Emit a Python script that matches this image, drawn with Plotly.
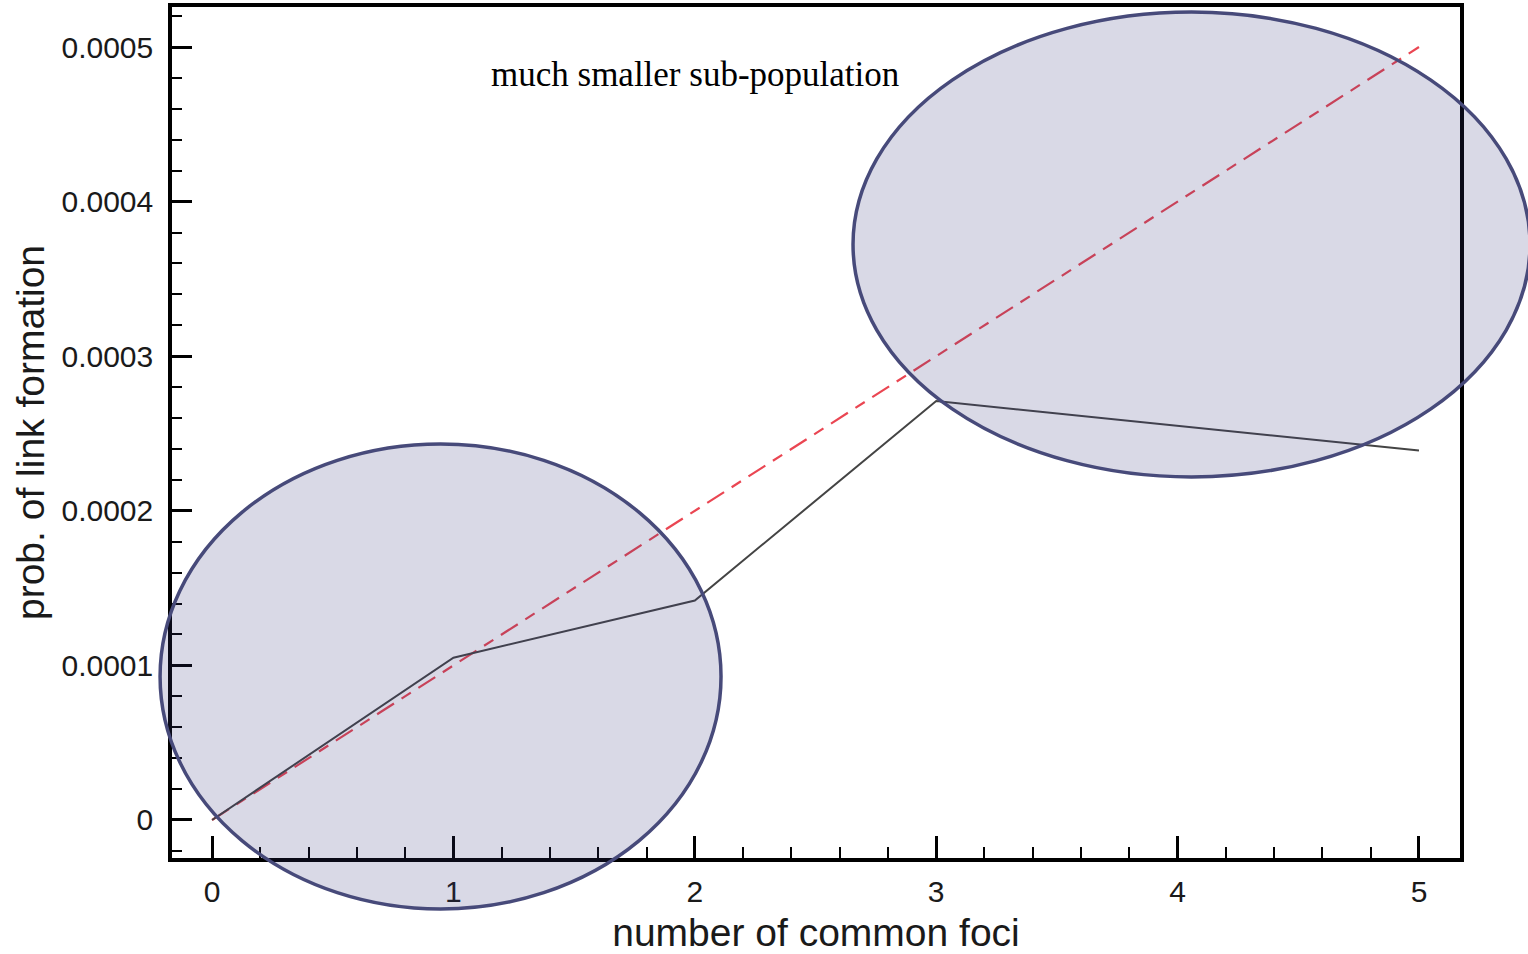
import plotly.graph_objects as go

# data
foci = [0, 1, 2, 3, 4, 5]
observed_x = [0, 1, 2, 3, 5]
observed_y = [0.0, 0.000105, 0.000142, 0.000271, 0.000239]
trend_x = [0, 5]
trend_y = [0.0, 0.0005]
y_tickvals = [0, 0.0001, 0.0002, 0.0003, 0.0004, 0.0005]
y_ticktext = ["0", "0.0001", "0.0002", "0.0003", "0.0004", "0.0005"]
x_tickvals = [0, 1, 2, 3, 4, 5]
x_ticktext = ["0", "1", "2", "3", "4", "5"]
note_text = "much smaller sub-population"

# axis ranges
XR = [-0.166, 5.17]
YR = [-0.0000246, 0.0005259]

# highlight ellipses in data units (x0, x1, y0, y1)
ellipses = [
    (-0.2154, 2.1085, -0.0000576, 0.0002432),
    (2.6554, 5.46, 0.0002219, 0.0005226),
]


def px(x):
    return (x - XR[0]) / (XR[1] - XR[0])


def py(y):
    return (y - YR[0]) / (YR[1] - YR[0])


fig = go.Figure()
fig.add_trace(go.Scatter(
    x=trend_x, y=trend_y, mode="lines",
    line=dict(color="#ea4652", width=2.2, dash="20px,9px,11px,9px"),
    showlegend=False, hoverinfo="skip"))
fig.add_trace(go.Scatter(
    x=observed_x, y=observed_y, mode="lines",
    line=dict(color="#444444", width=2),
    showlegend=False))

for (x0, x1, y0, y1) in ellipses:
    fig.add_shape(type="circle", xref="paper", yref="paper",
                  x0=px(x0), x1=px(x1), y0=py(y0), y1=py(y1),
                  fillcolor="rgba(52,54,120,0.19)",
                  line=dict(color="rgb(71,74,122)", width=3.5),
                  layer="above")

fig.add_annotation(x=2.0, y=0.000482, xref="x", yref="y", text=note_text,
                   showarrow=False,
                   font=dict(family="Liberation Serif", size=35, color="black"))

font_axis = dict(family="Liberation Sans", size=30, color="#1a1a1a")

fig.update_xaxes(
    range=XR, tickvals=x_tickvals, ticktext=x_ticktext,
    showgrid=False, zeroline=False,
    showline=True, linewidth=3.5, linecolor="black", mirror=True,
    ticks="inside", ticklen=22, tickwidth=3, tickcolor="black",
    minor=dict(dtick=0.2, ticks="inside", ticklen=11, tickwidth=2,
               tickcolor="black", showgrid=False),
    tickfont=font_axis, ticklabelstandoff=4,
    title=dict(text="number of common foci", standoff=16,
               font=dict(family="Liberation Sans", size=39, color="#1a1a1a")),
)
fig.update_yaxes(
    range=YR, tickvals=y_tickvals, ticktext=y_ticktext,
    showgrid=False, zeroline=False,
    showline=True, linewidth=3.5, linecolor="black", mirror=True,
    ticks="inside", ticklen=20, tickwidth=3, tickcolor="black",
    minor=dict(dtick=0.00002, ticks="inside", ticklen=10, tickwidth=2,
               tickcolor="black", showgrid=False),
    tickfont=font_axis, ticklabelstandoff=9,
    title=dict(text="prob. of link formation", standoff=6,
               font=dict(family="Liberation Sans", size=39, color="#1a1a1a")),
)

fig.update_layout(
    width=1528, height=954,
    margin=dict(l=172, r=68, t=7, b=96, autoexpand=False),
    paper_bgcolor="white", plot_bgcolor="white",
)

fig.write_html("out.html")
